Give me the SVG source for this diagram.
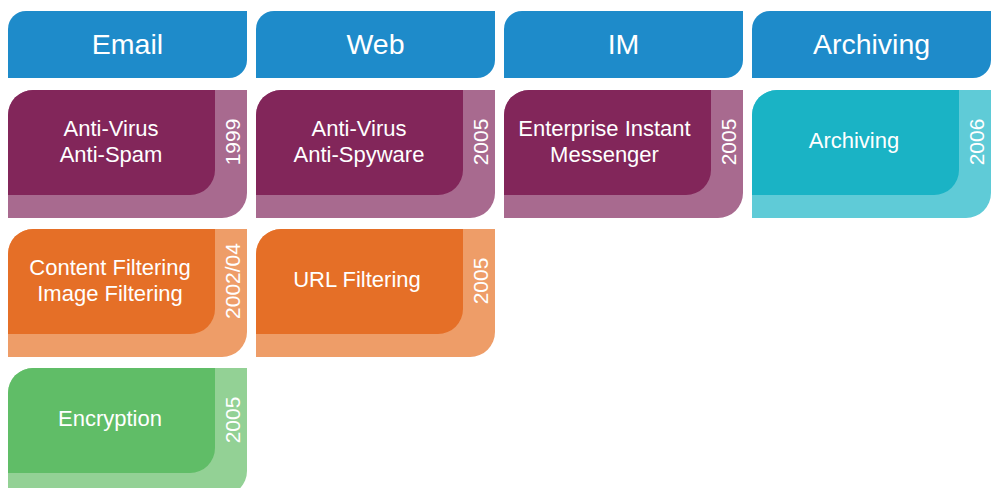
<svg xmlns="http://www.w3.org/2000/svg" width="997" height="488" viewBox="0 0 997 488">
<defs>
<path id="hdr" d="M0,18 A18,18 0 0 1 18,0 H239 V49 A18,18 0 0 1 221,67 H0 Z"/>
<path id="outer" d="M0,25 A25,25 0 0 1 25,0 H239 V103 A25,25 0 0 1 214,128 H0 Z"/>
<path id="inner" d="M0,25 A25,25 0 0 1 25,0 H207 V80 A25,25 0 0 1 182,105 H0 Z"/>
</defs>
<style>
text{font-family:"Liberation Sans",Arial,sans-serif;fill:#fff}
.h{font-size:28.5px;text-anchor:middle}
.t{font-size:22px;text-anchor:middle}
.y{font-size:21px;text-anchor:middle}
.hb{fill:#1e8bca}
.pd{fill:#82265a}.pl{fill:#a86a8f}
.od{fill:#e56f27}.ol{fill:#ee9d68}
.gd{fill:#60bd67}.gl{fill:#93d195}
.cd{fill:#1ab3c5}.cl{fill:#5fcbd7}
</style>
<rect width="997" height="488" fill="#fff"/>
<g id="header-email" transform="translate(8,11)"><use href="#hdr" class="hb"/><text class="h" x="119.5" y="42.5">Email</text></g>
<g id="header-web" transform="translate(256,11)"><use href="#hdr" class="hb"/><text class="h" x="119.5" y="42.5">Web</text></g>
<g id="header-im" transform="translate(504,11)"><use href="#hdr" class="hb"/><text class="h" x="119.5" y="42.5">IM</text></g>
<g id="header-archiving" transform="translate(752,11)"><use href="#hdr" class="hb"/><text class="h" x="119.5" y="42.5">Archiving</text></g>

<g id="email-antivirus" transform="translate(8,90)"><use href="#outer" class="pl"/><use href="#inner" class="pd"/><text class="t" x="103" y="45.7">Anti-Virus</text><text class="t" x="103" y="71.7">Anti-Spam</text><text class="y" transform="translate(231.5,52) rotate(-90)">1999</text></g>
<g id="web-antivirus" transform="translate(256,90)"><use href="#outer" class="pl"/><use href="#inner" class="pd"/><text class="t" x="103" y="45.7">Anti-Virus</text><text class="t" x="103" y="71.7">Anti-Spyware</text><text class="y" transform="translate(231.5,52) rotate(-90)">2005</text></g>
<g id="im-enterprise" transform="translate(504,90)"><use href="#outer" class="pl"/><use href="#inner" class="pd"/><text class="t" x="100.5" y="45.7">Enterprise Instant</text><text class="t" x="100.5" y="71.7">Messenger</text><text class="y" transform="translate(231.5,52) rotate(-90)">2005</text></g>
<g id="archiving" transform="translate(752,90)"><use href="#outer" class="cl"/><use href="#inner" class="cd"/><text class="t" x="102" y="58.3">Archiving</text><text class="y" transform="translate(231.5,52) rotate(-90)">2006</text></g>

<g id="email-content-filtering" transform="translate(8,229)"><use href="#outer" class="ol"/><use href="#inner" class="od"/><text class="t" x="102" y="45.7">Content Filtering</text><text class="t" x="102" y="71.7">Image Filtering</text><text class="y" transform="translate(231.5,52) rotate(-90)">2002/04</text></g>
<g id="web-url-filtering" transform="translate(256,229)"><use href="#outer" class="ol"/><use href="#inner" class="od"/><text class="t" x="101" y="58.3">URL Filtering</text><text class="y" transform="translate(231.5,52) rotate(-90)">2005</text></g>

<g id="email-encryption" transform="translate(8,368)"><use href="#outer" class="gl"/><use href="#inner" class="gd"/><text class="t" x="102" y="58.3">Encryption</text><text class="y" transform="translate(231.5,52) rotate(-90)">2005</text></g>
<g id="connectors"></g>
</svg>
